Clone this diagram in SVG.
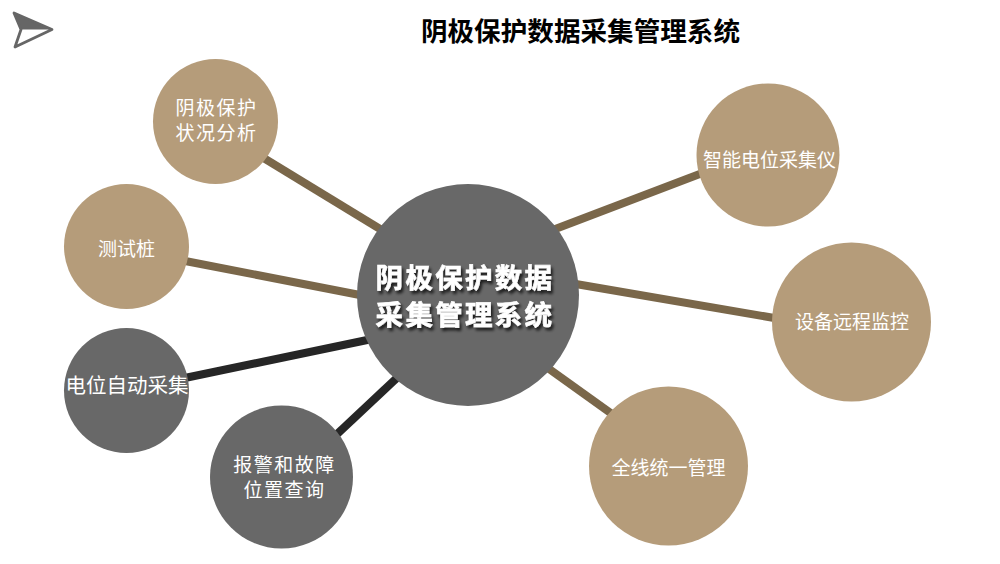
<svg xmlns="http://www.w3.org/2000/svg" width="1000" height="564" viewBox="0 0 1000 564">
<defs>
<style>
text{font-family:"Noto Sans CJK SC","Noto Sans CJK JP",sans-serif;text-anchor:middle}
.tan{fill:#b59c7a}
.gray{fill:#686868}
.lab{fill:#ffffff;font-size:19px;font-weight:400}
.big{font-size:20.500px}
.wide{letter-spacing:1.500px}
.brown{stroke:#7a674a;stroke-width:8;fill:none}
.dark{stroke:#262626;stroke-width:8;fill:none}
.hub{fill:#ffffff;font-size:27.500px;letter-spacing:2.300px;font-weight:700;stroke:#ffffff;stroke-width:0.600px;filter:url(#sh)}
</style>
<filter id="sh" x="-10%" y="-20%" width="120%" height="150%"><feDropShadow dx="2" dy="3" stdDeviation="1.5" flood-color="#000" flood-opacity="0.75"/></filter>
</defs>
<rect width="1000" height="564" fill="#ffffff"/>
<g id="logo"><path d="M14 13 L52 29.500 L20 29.500 Z" fill="#666666"/><path d="M14 13 L21 29.500 L15 47 L52 29.500 Z" fill="none" stroke="#666666" stroke-width="2.800" stroke-linejoin="round"/></g>
<text id="title" x="580.500" y="41" font-size="26.600" font-weight="700" fill="#000000">阴极保护数据采集管理系统</text>
<g id="connectors">
<line class="brown" x1="262" y1="157" x2="385" y2="232"/>
<line class="brown" x1="180" y1="260" x2="365" y2="296"/>
<line class="dark" x1="180" y1="379" x2="372" y2="339"/>
<line class="dark" x1="335" y1="436" x2="400" y2="375"/>
<line class="brown" x1="550" y1="231" x2="705" y2="172"/>
<line class="brown" x1="570" y1="283" x2="780" y2="319"/>
<line class="brown" x1="545" y1="366" x2="612" y2="414"/>
</g>
<g id="hub"><circle class="gray" cx="468" cy="295" r="111"/><text class="hub"><tspan x="465" y="288">阴极保护数据</tspan><tspan x="465" y="325">采集管理系统</tspan></text></g>
<g id="n1"><circle class="tan" cx="215.500" cy="121.500" r="62.500"/><text class="lab wide"><tspan x="216.500" y="115">阴极保护</tspan><tspan x="216.500" y="140">状况分析</tspan></text></g>
<g id="n2"><circle class="tan" cx="126.500" cy="246.500" r="62.500"/><text class="lab" x="126.500" y="256">测试桩</text></g>
<g id="n3"><circle class="gray" cx="126.500" cy="390.500" r="62.500"/><text class="lab big" x="127" y="393">电位自动采集</text></g>
<g id="n4"><circle class="gray" cx="281.500" cy="477" r="71.500"/><text class="lab wide"><tspan x="284.500" y="472">报警和故障</tspan><tspan x="284.500" y="497">位置查询</tspan></text></g>
<g id="n5"><circle class="tan" cx="768" cy="155" r="71.500"/><text class="lab" x="769.500" y="167">智能电位采集仪</text></g>
<g id="n6"><circle class="tan" cx="851.500" cy="322" r="79.500"/><text class="lab" x="852" y="329">设备远程监控</text></g>
<g id="n7"><circle class="tan" cx="668.500" cy="466" r="79.500"/><text class="lab" x="668.500" y="475">全线统一管理</text></g>
</svg>
